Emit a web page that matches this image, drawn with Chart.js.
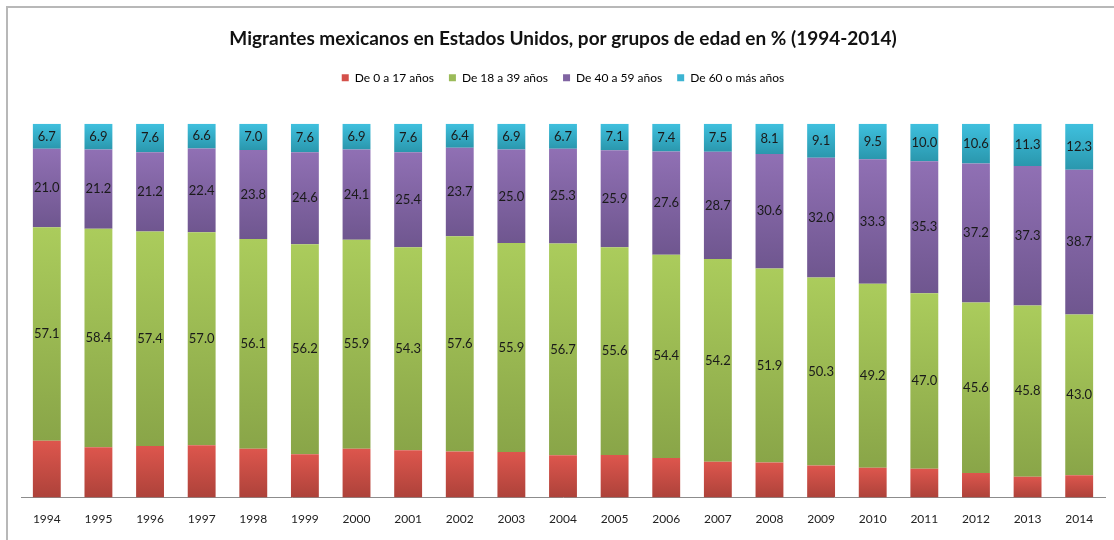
<!DOCTYPE html>
<html>
<head>
<meta charset="utf-8">
<script src="https://cdn.jsdelivr.net/npm/chart.js@4/dist/chart.umd.min.js"></script>
<style>
  html, body { margin: 0; padding: 0; background: #fff; }
  #wrap { position: relative; width: 1114px; height: 540px; }
  #frame { position: absolute; left: 6px; top: 6px; width: 1120px; height: 560px;
           border-left: 2px solid #b8b8b8; border-top: 2px solid #b8b8b8; pointer-events: none; }
</style>
</head>
<body>
<div id="wrap">
  <canvas id="chart" width="1114" height="540"></canvas>
  <div id="frame"></div>
</div>
<script>
'use strict';

const years = ['1994', '1995', '1996', '1997', '1998', '1999', '2000', '2001', '2002', '2003', '2004',
               '2005', '2006', '2007', '2008', '2009', '2010', '2011', '2012', '2013', '2014'];

const age0to17  = [15.2, 13.5, 13.8, 14.0, 13.1, 11.6, 13.1, 12.7, 12.3, 12.2, 11.3,
                   11.4, 10.6, 9.6, 9.4, 8.6, 8.0, 7.7, 6.6, 5.6, 6.0];
const age18to39 = [57.1, 58.4, 57.4, 57.0, 56.1, 56.2, 55.9, 54.3, 57.6, 55.9, 56.7,
                   55.6, 54.4, 54.2, 51.9, 50.3, 49.2, 47.0, 45.6, 45.8, 43.0];
const age40to59 = [21.0, 21.2, 21.2, 22.4, 23.8, 24.6, 24.1, 25.4, 23.7, 25.0, 25.3,
                   25.9, 27.6, 28.7, 30.6, 32.0, 33.3, 35.3, 37.2, 37.3, 38.7];
const age60plus = [6.7, 6.9, 7.6, 6.6, 7.0, 7.6, 6.9, 7.6, 6.4, 6.9, 6.7,
                   7.1, 7.4, 7.5, 8.1, 9.1, 9.5, 10.0, 10.6, 11.3, 12.3];

const seriesNames = ['De 0 a 17 años', 'De 18 a 39 años', 'De 40 a 59 años', 'De 60 o más años'];
const seriesData  = [age0to17, age18to39, age40to59, age60plus];
const flatColors  = ['#d4504a', '#9bbb59', '#8064a2', '#3cb4d2'];
const gradColors  = [['#dd564d', '#ad423a'], ['#abcc5c', '#89a548'],
                     ['#9070b4', '#6f568f'], ['#3fc0de', '#2a97ad']];

const FONT = 'Lato, "Open Sans", sans-serif';

// vertical gradient per segment, computed from the y scale
function segGradient(i) {
  return (c) => {
    const chart = c.chart;
    const y = chart.scales.y;
    if (c.type !== 'data' || !y || !chart.chartArea) return flatColors[i];
    let below = 0;
    for (let d = 0; d < c.datasetIndex; d++) below += chart.data.datasets[d].data[c.dataIndex];
    const top = y.getPixelForValue(below + c.raw);
    const bot = y.getPixelForValue(below);
    if (!isFinite(top) || !isFinite(bot) || top === bot) return flatColors[i];
    const g = chart.ctx.createLinearGradient(0, top, 0, bot);
    g.addColorStop(0, gradColors[i][0]);
    g.addColorStop(1, gradColors[i][1]);
    return g;
  };
}

const segmentLabels = {
  id: 'segmentLabels',
  afterDatasetsDraw(chart) {
    const ctx = chart.ctx;
    ctx.save();
    ctx.font = '13px ' + FONT;
    ctx.fillStyle = '#1a1a1a';
    ctx.textAlign = 'center';
    ctx.textBaseline = 'middle';
    chart.data.datasets.forEach((ds, di) => {
      if (di === 0) return;
      chart.getDatasetMeta(di).data.forEach((bar, i) => {
        const p = bar.getProps(['x', 'y', 'base'], true);
        ctx.fillText(ds.data[i].toFixed(1), p.x, (p.y + p.base) / 2);
      });
    });
    ctx.restore();
  }
};

// extra room between legend and bars
const legendGap = {
  id: 'legendGap',
  beforeInit(chart) {
    const fit = chart.legend.fit;
    chart.legend.fit = function () {
      fit.call(this);
      this.height += 30;
    };
  }
};

new Chart(document.getElementById('chart'), {
  type: 'bar',
  data: {
    labels: years,
    datasets: seriesData.map((d, i) => ({
      label: seriesNames[i],
      data: d,
      backgroundColor: segGradient(i),
      borderWidth: 0,
      categoryPercentage: 1,
      barPercentage: 0.54,
    })),
  },
  options: {
    responsive: false,
    animation: false,
    layout: { padding: { left: 21, right: 9, top: 0, bottom: 0 } },
    plugins: {
      tooltip: { enabled: false },
      title: {
        display: true,
        text: 'Migrantes mexicanos en Estados Unidos, por grupos de edad en % (1994-2014)',
        color: '#111',
        font: { family: FONT, size: 19, weight: 'bold' },
        padding: { top: 27, bottom: 7 },
      },
      legend: {
        position: 'top',
        labels: {
          color: '#222',
          font: { family: FONT, size: 12 },
          boxWidth: 7,
          boxHeight: 7,
          padding: 15,
          generateLabels: (chart) => chart.data.datasets.map((ds, i) => ({
            text: ds.label,
            fillStyle: flatColors[i],
            strokeStyle: flatColors[i],
            lineWidth: 0,
            datasetIndex: i,
          })),
        },
      },
    },
    scales: {
      x: {
        stacked: true,
        grid: { display: false, drawTicks: false },
        border: { color: '#8c8c8c', width: 1 },
        ticks: { color: '#222', font: { family: FONT, size: 12 }, padding: 14 },
      },
      y: {
        stacked: true,
        display: false,
        min: 0,
        max: 100,
      },
    },
  },
  plugins: [segmentLabels, legendGap],
});
</script>
</body>
</html>
